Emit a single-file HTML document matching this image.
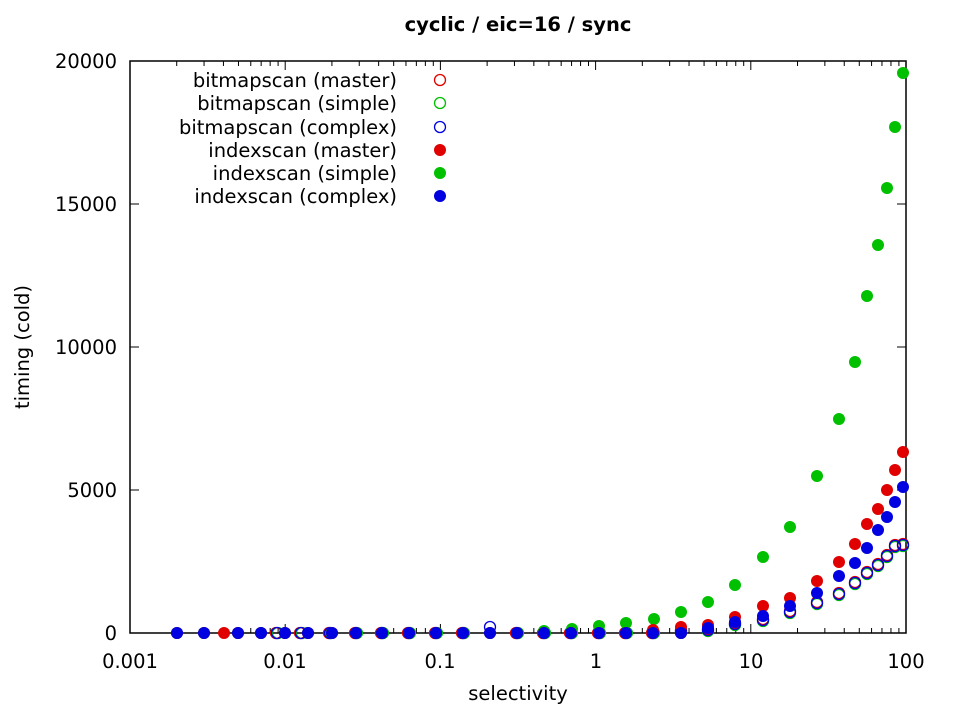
<!DOCTYPE html><html><head><style>body{margin:0;background:#fff}text{font-family:"DejaVu Sans",sans-serif}</style></head><body>
<svg width="967" height="713" xmlns="http://www.w3.org/2000/svg">
<text x="518" y="31" font-size="19.5" font-weight="bold" text-anchor="middle">cyclic / eic=16 / sync</text>
<rect x="130" y="61" width="776" height="572" fill="none" stroke="#000" stroke-width="1.5"/>
<g font-size="19.5" text-anchor="end">
<text x="117" y="640">0</text><text x="117" y="497">5000</text><text x="117" y="354">10000</text><text x="117" y="211">15000</text><text x="117" y="68">20000</text></g>
<g stroke="#000"><path d="M130 490h9M130 347h9M130 204h9M906 490h-9M906 347h-9M906 204h-9"/></g>
<g font-size="19.5" text-anchor="middle">
<text x="130" y="668">0.001</text><text x="285" y="668">0.01</text><text x="440" y="668">0.1</text><text x="596" y="668">1</text><text x="751" y="668">10</text><text x="906" y="668">100</text></g>
<g id="tk" stroke="#000"></g>
<text x="518" y="700" font-size="19.5" text-anchor="middle">selectivity</text>
<text transform="translate(29,347) rotate(-90)" font-size="19.5" text-anchor="middle">timing (cold)</text>
<g font-size="19.5" text-anchor="end">
<text x="397" y="87">bitmapscan (master)</text><text x="397" y="110">bitmapscan (simple)</text><text x="397" y="134">bitmapscan (complex)</text><text x="397" y="157">indexscan (master)</text><text x="397" y="180">indexscan (simple)</text><text x="397" y="203">indexscan (complex)</text></g>
<g stroke-width="1.3" fill="none"><circle cx="440" cy="80" r="5.5" stroke="#e00000"/><circle cx="440" cy="103" r="5.5" stroke="#00c000"/><circle cx="440" cy="127" r="5.5" stroke="#0000e0"/></g>
<circle cx="440" cy="150" r="6" fill="#e00000"/><circle cx="440" cy="173" r="6" fill="#00c000"/><circle cx="440" cy="196" r="6" fill="#0000e0"/>
<g id="pts"></g>
</svg>
<script>
var ns="http://www.w3.org/2000/svg";
var tk=document.getElementById("tk"),d="";
for(var e=0;e<5;e++)for(var m=1;m<=10;m++){var x=130+155.2*(e+Math.log10(m));var l=(m==1||m==10)?9:5;d+="M"+x+" 633v-"+l+"M"+x+" 61v"+l;}
var p=document.createElementNS(ns,"path");p.setAttribute("d",d);tk.appendChild(p);
var g=document.getElementById("pts");
function c(x,y,col,f){var o=document.createElementNS(ns,"circle");o.setAttribute("cx",x);o.setAttribute("cy",y);o.setAttribute("r",f?6:5.5);if(f)o.setAttribute("fill",col);else{o.setAttribute("fill","none");o.setAttribute("stroke",col);o.setAttribute("stroke-width","1.3");}g.appendChild(o);}
var xs=[177,204,238,261,285,308,332,356,382,409,436,463,490,517,544,571,599,626,653,681];
var op=[[681,631],[708,630],[735,624],[763,620],[790,612],[817,603],[839,594],[855,583],[867,573],[878,565],[887,556],[895,546],[903,545]];
[["#00c000",1],["#e00000",-1],["#0000e0",0]].forEach(function(s){
 [277,301,330,356,382,409,436,463,517,544,571,599,626,653].forEach(function(x){c(x+s[1],633,s[0],0)});
 op.forEach(function(q){c(q[0],q[1]+s[1],s[0],0)});});
c(490,627,"#0000e0",0);
var gr=[[544,631],[572,629],[599,626],[626,623],[654,619],[681,612],[708,602],[735,585],[763,557],[790,527],[817,476],[839,419],[855,362],[867,296],[878,245],[887,188],[895,127],[903,73]];
var rd=[[224,633],[653,630],[681,627],[708,625],[735,617],[763,606],[790,598],[817,581],[839,562],[855,544],[867,524],[878,509],[887,490],[895,470],[903,452]];
var bl=[[708,628],[735,622],[763,616],[790,606],[817,593],[839,576],[855,563],[867,548],[878,530],[887,517],[895,502],[903,487]];
xs.forEach(function(x){c(x,633,"#00c000",1)});gr.forEach(function(q){c(q[0],q[1],"#00c000",1)});
xs.forEach(function(x){c(x,633,"#e00000",1)});rd.forEach(function(q){c(q[0],q[1],"#e00000",1)});
xs.forEach(function(x){c(x,633,"#0000e0",1)});bl.forEach(function(q){c(q[0],q[1],"#0000e0",1)});
</script>
</body></html>
